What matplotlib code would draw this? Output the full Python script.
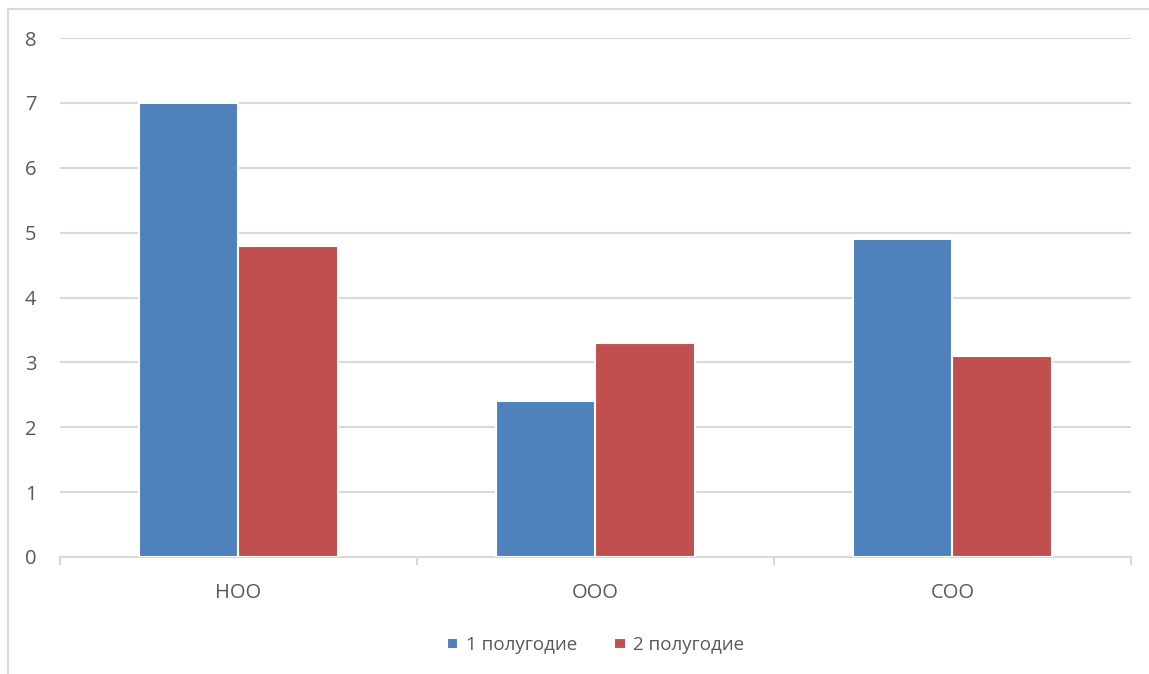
import matplotlib
matplotlib.use('Agg')
import matplotlib.pyplot as plt
import numpy as np
from matplotlib.patches import Rectangle

categories = ['НОО', 'ООО', 'СОО']
series_names = ['1 полугодие', '2 полугодие']
half1 = [7.0, 2.4, 4.9]
half2 = [4.8, 3.3, 3.1]
colors = ['#4f81bd', '#c0504d']
yticks = [0, 1, 2, 3, 4, 5, 6, 7, 8]

plt.rcParams['font.family'] = ['Open Sans', 'DejaVu Sans']

fig = plt.figure(figsize=(11.49, 6.74), dpi=100)
ax = fig.add_axes([0.0522, 0.1736, 0.9321, 0.770])

# chart frame (left and top edges visible in the crop)
fig.patches.append(Rectangle((8 / 1149, -0.1), 2.0, 1.1 - 9 / 674, transform=fig.transFigure,
                             fill=False, edgecolor='#d9d9d9', linewidth=1.5))

x = np.arange(len(categories))
w = 0.28
ax.bar(x - w / 2, half1, w, color=colors[0], edgecolor='white', linewidth=1.5, label=series_names[0], zorder=3)
ax.bar(x + w / 2, half2, w, color=colors[1], edgecolor='white', linewidth=1.5, label=series_names[1], zorder=3)

ax.set_xlim(-0.5, len(categories) - 0.5)
ax.set_ylim(0, 8)
ax.set_yticks(yticks)
ax.grid(axis='y', color='#d9d9d9', linewidth=1.5, zorder=0)
ax.set_xticks(x)
ax.set_xticklabels(categories)
ax.set_xticks(np.arange(len(categories) + 1) - 0.5, minor=True)
ax.tick_params(axis='x', which='major', length=0, pad=19, labelsize=14.5, labelcolor='#595959')
ax.tick_params(axis='x', which='minor', length=6, color='#d9d9d9', width=1.5)
ax.tick_params(axis='y', length=0, pad=17, labelsize=14.5, labelcolor='#595959')
for s in ['top', 'right', 'left']:
    ax.spines[s].set_visible(False)
ax.spines['bottom'].set_color('#d9d9d9')
ax.spines['bottom'].set_linewidth(1.5)

ax.legend(loc='upper center', bbox_to_anchor=(0.5, -0.12), ncol=2, frameon=False,
          fontsize=13.5, labelcolor='#595959', handlelength=0.6, handleheight=0.6,
          handletextpad=0.4, columnspacing=2.0)

fig.savefig('out.png', dpi=100)
